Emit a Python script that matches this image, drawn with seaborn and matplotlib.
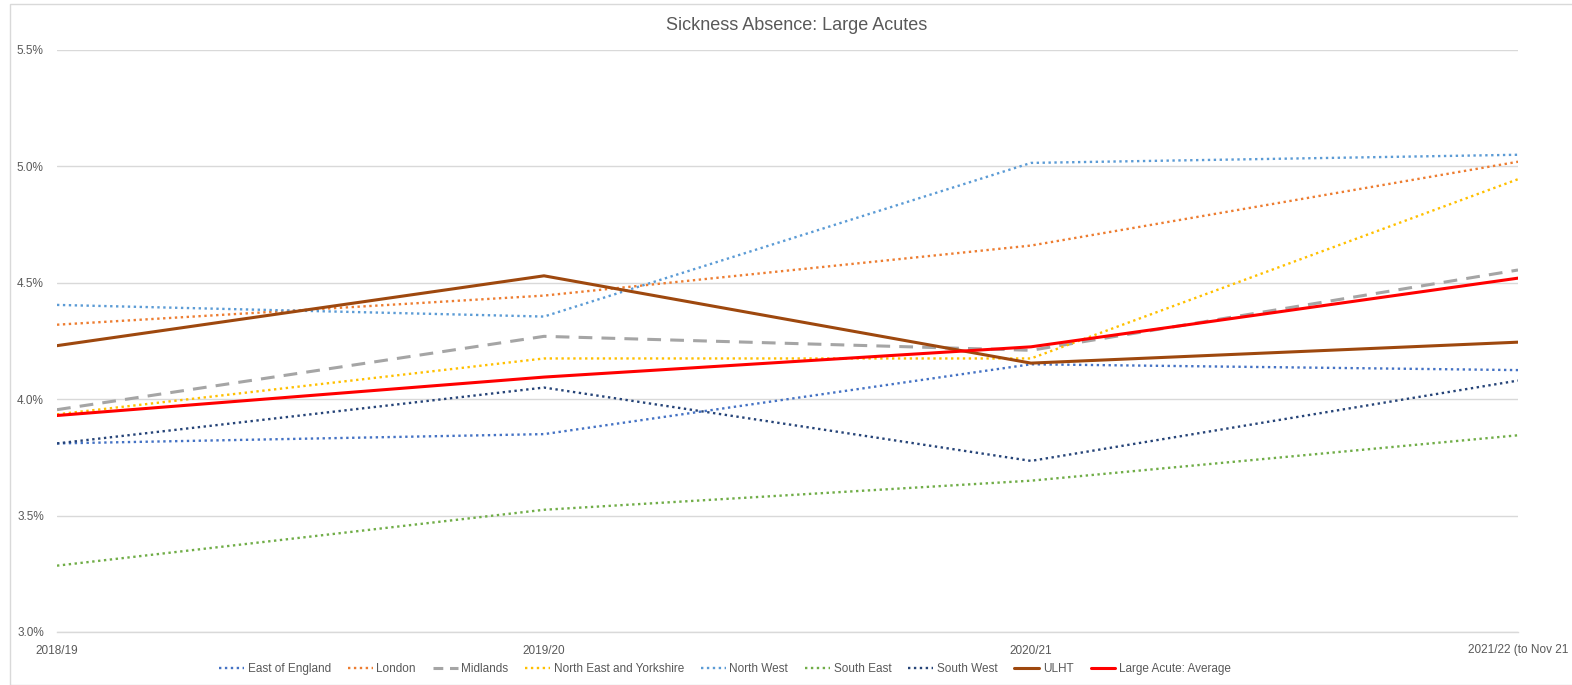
import matplotlib
matplotlib.use("Agg")
import matplotlib.pyplot as plt
import seaborn as sns
import pandas as pd
from matplotlib.patches import Rectangle
from matplotlib import font_manager

years = ["2018/19", "2019/20", "2020/21", "2021/22 (to Nov 21"]
east_of_england = [3.81, 3.85, 4.15, 4.125]
london = [4.32, 4.445, 4.66, 5.02]
midlands = [3.955, 4.27, 4.21, 4.555]
ne_yorkshire = [3.935, 4.175, 4.175, 4.945]
north_west = [4.405, 4.355, 5.015, 5.05]
south_east = [3.285, 3.525, 3.65, 3.845]
south_west = [3.81, 4.05, 3.735, 4.08]
ulht = [4.23, 4.53, 4.155, 4.245]
large_acute_avg = [3.93, 4.095, 4.225, 4.52]

series_names = ["East of England", "London", "Midlands", "North East and Yorkshire",
                "North West", "South East", "South West", "ULHT", "Large Acute: Average"]
series_values = [east_of_england, london, midlands, ne_yorkshire, north_west,
                 south_east, south_west, ulht, large_acute_avg]
colors = ["#4472C4", "#ED7D31", "#A5A5A5", "#FFC000", "#5B9BD5",
          "#70AD47", "#264478", "#9E480E", "#FF0000"]
dotted = (0, (1, 1.5))
styles = [dotted, dotted, (0, (4.5, 3)), dotted, dotted, dotted, dotted, "-", "-"]
widths = [1.7, 1.7, 2.2, 1.7, 1.7, 1.7, 1.7, 2.2, 2.2]

rows = []
for name, vals in zip(series_names, series_values):
    for i, v in enumerate(vals):
        rows.append({"series": name, "x": i, "value": v})
df = pd.DataFrame(rows)

sns.set_style("white")
plt.rcParams['font.family'] = ['Liberation Sans', 'DejaVu Sans']

names_installed = {f.name for f in font_manager.fontManager.ttflist}
legend_family = ['Liberation Sans Narrow', 'Liberation Sans'] if 'Liberation Sans Narrow' in names_installed else ['Liberation Sans']

fig = plt.figure(figsize=(15.72, 6.85), dpi=100)
ax = fig.add_axes([57/1572, 1 - 632/685, (1518-57)/1572, (632-50)/685])

for name, c, ls, lw in zip(series_names, colors, styles, widths):
    sub = df[df["series"] == name]
    sns.lineplot(data=sub, x="x", y="value", ax=ax, color=c, linewidth=lw,
                 label=name, linestyle=ls, dash_capstyle="butt")

ax.set_xlim(0, 3)
ax.set_ylim(3.0, 5.5)
ax.set_yticks([3.0, 3.5, 4.0, 4.5, 5.0, 5.5])
ax.set_yticklabels([f"{t:.1f}%" for t in [3.0, 3.5, 4.0, 4.5, 5.0, 5.5]])
ax.set_xticks(range(len(years)))
ax.set_xticklabels(years)
ax.set_xlabel("")
ax.set_ylabel("")
ax.grid(axis="y", color="#D9D9D9", linewidth=1)
ax.set_axisbelow(True)
for s in ["top", "right", "left"]:
    ax.spines[s].set_visible(False)
ax.spines["bottom"].set_color("#D9D9D9")
ax.spines["bottom"].set_linewidth(1)
ax.tick_params(axis="y", length=0, pad=9.5, labelsize=8.5, labelcolor="#595959")
ax.tick_params(axis="x", length=0, pad=9, labelsize=8.5, labelcolor="#595959")

fig.text(797/1572, 1 - 25/685, "Sickness Absence: Large Acutes", ha="center", va="center",
         fontsize=13, color="#595959")

ax.legend_.remove()
handles, labels = ax.get_legend_handles_labels()
leg = fig.legend(handles, labels, loc="center", bbox_to_anchor=(725/1572, 1 - 669/685), ncol=9,
                 frameon=False, prop={'family': legend_family, 'size': 8.5},
                 labelcolor="#595959", handlelength=2.1,
                 columnspacing=1.45, handletextpad=0.3)
leg.get_lines()[2].set_dashes([3.2, 2.2])

fig.patches.append(Rectangle((10/1572, 0), 1.0, 1 - 4/685, transform=fig.transFigure,
                             fill=False, edgecolor="#D9D9D9", linewidth=1))

fig.savefig("out.png", dpi=100)
